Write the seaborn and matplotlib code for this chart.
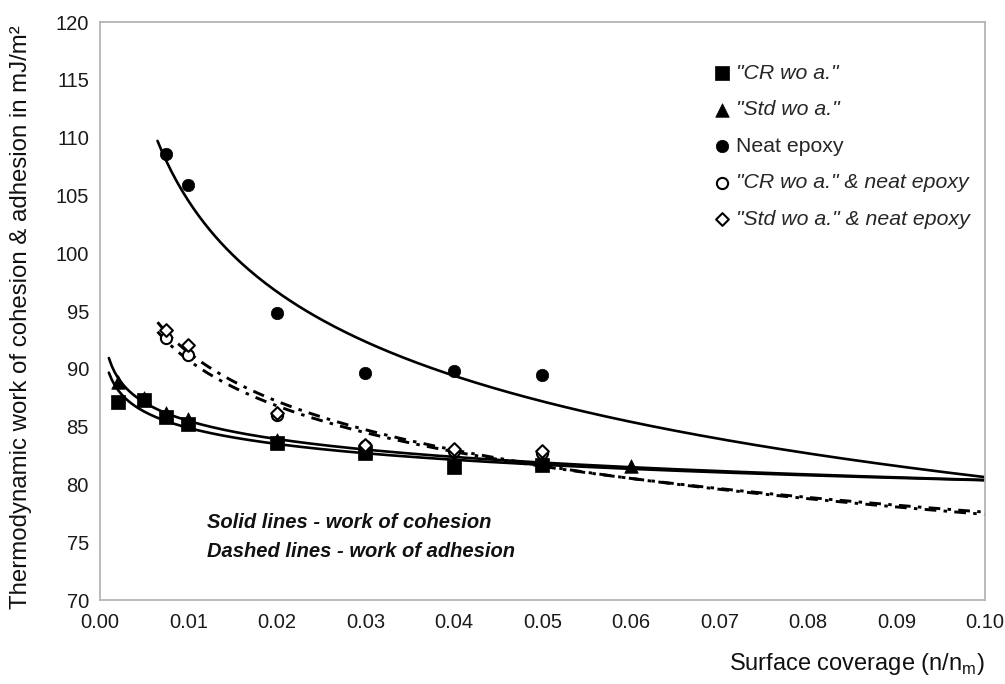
import numpy as np
import pandas as pd
import matplotlib
matplotlib.use("Agg")
import matplotlib.pyplot as plt
import seaborn as sns

# Surface coverage (n/n_m) and work of cohesion / adhesion in mJ/m^2
x_cr = [0.002, 0.005, 0.0075, 0.01, 0.02, 0.03, 0.04, 0.05]
y_cr = [87.15, 87.3, 85.8, 85.2, 83.55, 82.7, 81.5, 81.7]

x_std = [0.002, 0.005, 0.0075, 0.01, 0.02, 0.03, 0.04, 0.05, 0.06]
y_std = [88.9, 87.5, 86.2, 85.7, 83.8, 83.0, 82.1, 81.9, 81.6]

x_neat = [0.0075, 0.01, 0.02, 0.03, 0.04, 0.05]
y_neat = [108.6, 105.9, 94.8, 89.6, 89.8, 89.5]

x_cr_neat = [0.0075, 0.01, 0.02, 0.03, 0.04, 0.05]
y_cr_neat = [92.7, 91.2, 86.0, 83.3, 82.9, 82.7]

x_std_neat = [0.0075, 0.01, 0.02, 0.03, 0.04, 0.05]
y_std_neat = [93.4, 92.1, 86.2, 83.4, 83.1, 82.9]

labels = ['"CR wo a."', '"Std wo a."', 'Neat epoxy',
          '"CR wo a." & neat epoxy', '"Std wo a." & neat epoxy']

x_ticks = [0.00, 0.01, 0.02, 0.03, 0.04, 0.05, 0.06, 0.07, 0.08, 0.09, 0.10]
y_ticks = [70, 75, 80, 85, 90, 95, 100, 105, 110, 115, 120]

sns.set_style("white")
plt.rcParams["font.family"] = ["Liberation Sans", "DejaVu Sans"]
plt.rcParams["mathtext.fontset"] = "custom"
plt.rcParams["mathtext.rm"] = "Liberation Sans"

fig = plt.figure(figsize=(10.05, 6.84), dpi=100)
ax = fig.add_axes([0.0995, 0.1228, 0.8806, 0.845])

X_END = 0.10
BACK = 0.001


def power_trend(x, y):
    b, ln_a = np.polyfit(np.log(x), np.log(y), 1)
    xs = np.linspace(min(x) - BACK, X_END, 300)
    return xs, np.exp(ln_a) * xs ** b


def log_trend(x, y):
    b, a = np.polyfit(np.log(x), y, 1)
    xs = np.linspace(min(x) - BACK, X_END, 300)
    return xs, a + b * np.log(xs)


# trend lines: power fits for cohesion, logarithmic fits for adhesion
solid_kw = dict(color="black", linewidth=1.9, estimator=None, sort=False, zorder=2)
for xs, ys in [power_trend(x_cr, y_cr), power_trend(x_std, y_std),
               power_trend(x_neat, y_neat)]:
    sns.lineplot(x=xs, y=ys, ax=ax, **solid_kw)

dash_kw = dict(color="black", linewidth=2.1, estimator=None, sort=False, zorder=2)
for xs, ys in [log_trend(x_cr_neat, y_cr_neat), log_trend(x_std_neat, y_std_neat)]:
    ln = sns.lineplot(x=xs, y=ys, ax=ax, **dash_kw)
    ln.lines[-1].set_dashes((4, 2.5, 1.2, 2.5))

# measured points
sns.scatterplot(x=x_cr, y=y_cr, ax=ax, marker="s", s=100, color="black",
                edgecolor="black", linewidth=0.5, label=labels[0], zorder=4)
sns.scatterplot(x=x_std, y=y_std, ax=ax, marker="^", s=95, color="black",
                edgecolor="black", linewidth=0.5, label=labels[1], zorder=3)
sns.scatterplot(x=x_neat, y=y_neat, ax=ax, marker="o", s=80, color="black",
                edgecolor="black", linewidth=0.5, label=labels[2], zorder=4)
sns.scatterplot(x=x_cr_neat, y=y_cr_neat, ax=ax, marker="o", s=65,
                facecolor="white", edgecolor="black", linewidth=1.5,
                label=labels[3], zorder=5)
sns.scatterplot(x=x_std_neat, y=y_std_neat, ax=ax, marker="D", s=42,
                facecolor="white", edgecolor="black", linewidth=1.5,
                label=labels[4], zorder=5)

ax.set_xlim(0, 0.10)
ax.set_ylim(70, 120)
ax.set_xticks(x_ticks)
ax.set_yticks(y_ticks)
ax.set_xticklabels([f"{v:.2f}" for v in x_ticks])
ax.set_yticklabels([str(v) for v in y_ticks])
ax.tick_params(axis="both", labelsize=14.5, colors="#1a1a1a", length=5,
               width=1, direction="out", color="#a0a0a0", pad=3)
ax.tick_params(axis="x", length=0, pad=9)

for side in ["left", "bottom", "top", "right"]:
    ax.spines[side].set_color("#b4b4b4")
    ax.spines[side].set_linewidth(1.3)

ax.set_xlabel("Surface coverage (n/n$_\\mathregular{m}$)", fontsize=17,
              loc="right", labelpad=14, color="#111111")
ax.set_ylabel("Thermodynamic work of cohesion & adhesion in mJ/m²",
              fontsize=17.3, color="#111111")
ax.yaxis.set_label_coords(-0.077, 0.49)

leg = ax.legend(loc="upper left", bbox_to_anchor=(0.681, 0.942), frameon=False,
                fontsize=15.3, labelspacing=0.82, handletextpad=0.15,
                handlelength=1.0, borderaxespad=0)
for i, t in enumerate(leg.get_texts()):
    if i != 2:
        t.set_fontstyle("italic")

ax.text(0.121, 0.134, "Solid lines - work of cohesion", transform=ax.transAxes,
        fontsize=14.5, fontweight="bold", fontstyle="italic", va="center",
        color="#111111")
ax.text(0.121, 0.084, "Dashed lines - work of adhesion", transform=ax.transAxes,
        fontsize=14.5, fontweight="bold", fontstyle="italic", va="center",
        color="#111111")

fig.savefig("out.png", dpi=100)
